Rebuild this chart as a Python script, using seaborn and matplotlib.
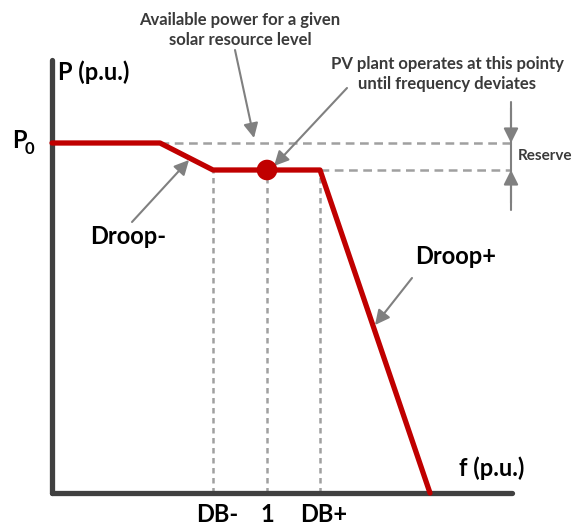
import matplotlib
matplotlib.use("Agg")
import matplotlib.pyplot as plt
import seaborn as sns
import pandas as pd

sns.set_theme(style="white")
plt.rcParams['font.family'] = ['Lato', 'DejaVu Sans']

# Curva P-f (unidades del esquema: origen en la esquina de los ejes)
f_curve = [0, 108, 161, 268, 378]
p_curve = [350, 350, 323, 323, 0]
curve_labels = ["start", "droop_minus_start", "DB-", "DB+", "zero"]

# Punto de operación y niveles
f_oper = [215]
p_oper = [323]
p_avail = 350
p_reserve = 323

# Marcas del eje f
tick_pos = [161, 215, 268]
tick_labels = ["DB-", "1", "DB+"]

f_axis_end = 460
p_axis_end = 433

RED = "#c00000"
AXIS = "#404040"
DASH = "#a0a0a0"
ARROW = "#808080"
TXT_GRAY = "#3a3a3a"

fig = plt.figure(figsize=(5.76, 5.25), dpi=100)
ax = fig.add_axes([0, 0, 1, 1])

# Líneas guía punteadas
ax.hlines(p_avail, f_curve[1], f_axis_end - 1, color=DASH, lw=1.8, linestyle=(0, (3.5, 2.2)), zorder=1)
ax.hlines(p_reserve, f_curve[3], f_axis_end - 1, color=DASH, lw=1.8, linestyle=(0, (3.5, 2.2)), zorder=1)
for fx in tick_pos:
    ax.vlines(fx, 0, p_reserve, color=DASH, lw=1.8, linestyle=(0, (2.2, 1.8)), zorder=1)

# Ejes
ax.plot([0, 0], [0, p_axis_end], color=AXIS, lw=3.8, solid_capstyle='round', zorder=2)
ax.plot([0, f_axis_end], [0, 0], color=AXIS, lw=3.8, solid_capstyle='round', zorder=2)

# Curva de potencia
df = pd.DataFrame({'f': f_curve, 'p': p_curve, 'pt': curve_labels})
sns.lineplot(data=df, x='f', y='p', sort=False, color=RED, lw=3.8, ax=ax, zorder=4,
             solid_capstyle='round', solid_joinstyle='round')
sns.scatterplot(x=f_oper, y=p_oper, color=RED, s=220, edgecolor='none', ax=ax, zorder=5)

ax.set_xlim(-52, 524)
ax.set_ylim(-32, 493)
ax.axis('off')

# Reserva
ax.plot([459, 459], [283, 391], color=ARROW, lw=1.5, zorder=1)
arrow_kw = dict(arrowstyle='-|>', color=ARROW, lw=1.5, mutation_scale=22, shrinkA=0, shrinkB=0)
ax.annotate('', xy=(459, p_avail), xytext=(459, 385), arrowprops=arrow_kw)
ax.annotate('', xy=(459, p_reserve), xytext=(459, 290), arrowprops=arrow_kw)
ax.text(466, 337, 'Reserve', ha='left', va='center', fontsize=11, fontweight='bold', color=TXT_GRAY)

# Anotaciones
ax.text(188, 463, 'Available power for a given\nsolar resource level', ha='center', va='center',
        fontsize=12, fontweight='bold', color=TXT_GRAY, linespacing=1.3)
ax.annotate('', xy=(202, 355), xytext=(183, 443), arrowprops=arrow_kw)

ax.text(395, 419, 'PV plant operates at this pointy\nuntil frequency deviates', ha='center', va='center',
        fontsize=12, fontweight='bold', color=TXT_GRAY, linespacing=1.3)
ax.annotate('', xy=(222, 327), xytext=(295, 405), arrowprops=arrow_kw)

ax.text(76, 257, 'Droop-', ha='center', va='center', fontsize=17, fontweight='bold', color='black')
ax.annotate('', xy=(137, 333), xytext=(80, 271), arrowprops=arrow_kw)

ax.text(404, 236, 'Droop+', ha='center', va='center', fontsize=17, fontweight='bold', color='black')
ax.annotate('', xy=(323, 168), xytext=(360, 215), arrowprops=arrow_kw)

# Etiquetas de ejes
ax.text(6, 421, 'P (p.u.)', ha='left', va='center', fontsize=17, fontweight='bold', color='black')
ax.text(440, 25, 'f (p.u.)', ha='center', va='center', fontsize=17, fontweight='bold', color='black')
ax.text(-40, 352, 'P', ha='left', va='center', fontsize=17, fontweight='bold', color='black')
ax.text(-27, 344, '0', ha='left', va='center', fontsize=12, fontweight='bold', color='black')

for fx, lab in zip(tick_pos, tick_labels):
    ax.text(fx + (4 if lab != "1" else 0), -22, lab, ha='center', va='center',
            fontsize=17, fontweight='bold', color='black')

fig.savefig('out.png', dpi=100)
